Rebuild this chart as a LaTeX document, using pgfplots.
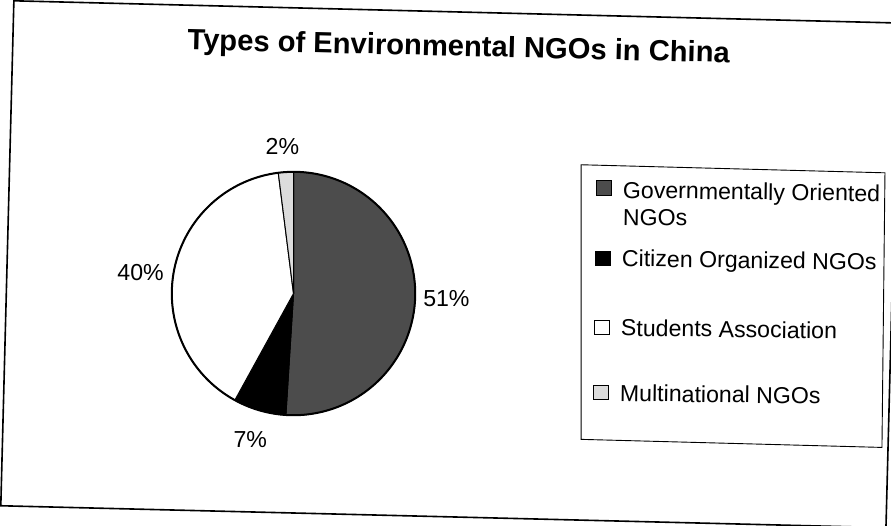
\documentclass[border=0pt]{standalone}
\usepackage{pgfplots}
\pgfplotsset{compat=1.18}
\usepackage{pgfplotstable}
\usepackage{fontspec}
\setmainfont{Liberation Sans}
\definecolor{govgray}{HTML}{4C4C4C}
\definecolor{multigray}{HTML}{DCDCDC}
\pgfplotstableread{
share
51
7
40
2
}\pietable
\begin{document}
\begin{tikzpicture}
\pgfplotstablegetelem{0}{share}\of\pietable \edef\sA{\pgfplotsretval}
\pgfplotstablegetelem{1}{share}\of\pietable \edef\sB{\pgfplotsretval}
\pgfplotstablegetelem{2}{share}\of\pietable \edef\sC{\pgfplotsretval}
\pgfplotstablegetelem{3}{share}\of\pietable \edef\sD{\pgfplotsretval}
\pgfmathsetmacro\tA{90}
\pgfmathsetmacro\tB{\tA-3.6*\sA}
\pgfmathsetmacro\tC{\tB-3.6*\sB}
\pgfmathsetmacro\tD{\tC-3.6*\sC}
\pgfmathsetmacro\tE{\tD-3.6*\sD}
\begin{axis}[
  width=891bp, height=531bp, scale only axis,
  xmin=0, xmax=891, ymin=0, ymax=531, y dir=reverse,
  hide axis, clip=true,
]
% outer frame
\addplot[black, line width=1.6bp] coordinates {(895,31) (19,9) (6,511) (895,533)};
\addplot[black, line width=1.6bp] coordinates {(886,532) (899,30)};
% title
\node[rotate=-1.4, anchor=base, font=\fontsize{29bp}{34bp}\bfseries\selectfont] at (axis cs:461,64) {Types of Environmental NGOs in China};
% pie slices
\addplot[fill=govgray, draw=black, line width=1bp, domain=\tB:\tA, samples=90, variable=\t] ({297+121*cos(\t)}, {300-121*sin(\t)}) -- (axis cs:297,300) -- cycle;
\addplot[fill=black, draw=black, line width=1bp, domain=\tC:\tB, samples=30, variable=\t] ({297+121*cos(\t)}, {300-121*sin(\t)}) -- (axis cs:297,300) -- cycle;
\addplot[fill=white, draw=black, line width=1bp, domain=\tD:\tC, samples=80, variable=\t] ({297+121*cos(\t)}, {300-121*sin(\t)}) -- (axis cs:297,300) -- cycle;
\addplot[fill=multigray, draw=black, line width=1bp, domain=\tE:\tD, samples=10, variable=\t] ({297+121*cos(\t)}, {300-121*sin(\t)}) -- (axis cs:297,300) -- cycle;
\addplot[black, line width=2bp, domain=0:360, samples=200, variable=\t] ({297+121*cos(\t)}, {300-121*sin(\t)});
% slice labels
\node[anchor=base, font=\fontsize{23bp}{27bp}\selectfont] at (axis cs:449,313) {51\%};
\node[anchor=base, font=\fontsize{23bp}{27bp}\selectfont] at (axis cs:254,453) {7\%};
\node[anchor=base, font=\fontsize{23bp}{27bp}\selectfont] at (axis cs:145,287) {40\%};
\node[anchor=base, font=\fontsize{23bp}{27bp}\selectfont] at (axis cs:286,162) {2\%};
% legend box
\addplot[black, line width=0.9bp, fill=white] coordinates {(583,172) (885,180) (882,453) (583,445)} -- cycle;
\addplot[fill=govgray, draw=black, line width=0.8bp] coordinates {(598,188) (613,188) (613,202) (598,202)} -- cycle;
\addplot[fill=black, draw=black, line width=0.8bp] coordinates {(597,258) (612,258) (612,272) (597,272)} -- cycle;
\addplot[fill=white, draw=black, line width=0.8bp] coordinates {(596,327) (611,327) (611,341) (596,341)} -- cycle;
\addplot[fill=multigray, draw=black, line width=0.8bp] coordinates {(595,391) (610,391) (610,405) (595,405)} -- cycle;
\node[rotate=-0.8, anchor=base west, font=\fontsize{23bp}{27bp}\selectfont] at (axis cs:621,205) {Governmentally Oriented};
\node[rotate=-0.8, anchor=base west, font=\fontsize{23bp}{27bp}\selectfont] at (axis cs:621,232) {NGOs};
\node[rotate=-0.8, anchor=base west, font=\fontsize{23bp}{27bp}\selectfont] at (axis cs:620,273) {Citizen Organized NGOs};
\node[rotate=-0.8, anchor=base west, font=\fontsize{23bp}{27bp}\selectfont] at (axis cs:619,342) {Students Association};
\node[rotate=-0.8, anchor=base west, font=\fontsize{23bp}{27bp}\selectfont] at (axis cs:618,407) {Multinational NGOs};
\end{axis}
\end{tikzpicture}
\end{document}
